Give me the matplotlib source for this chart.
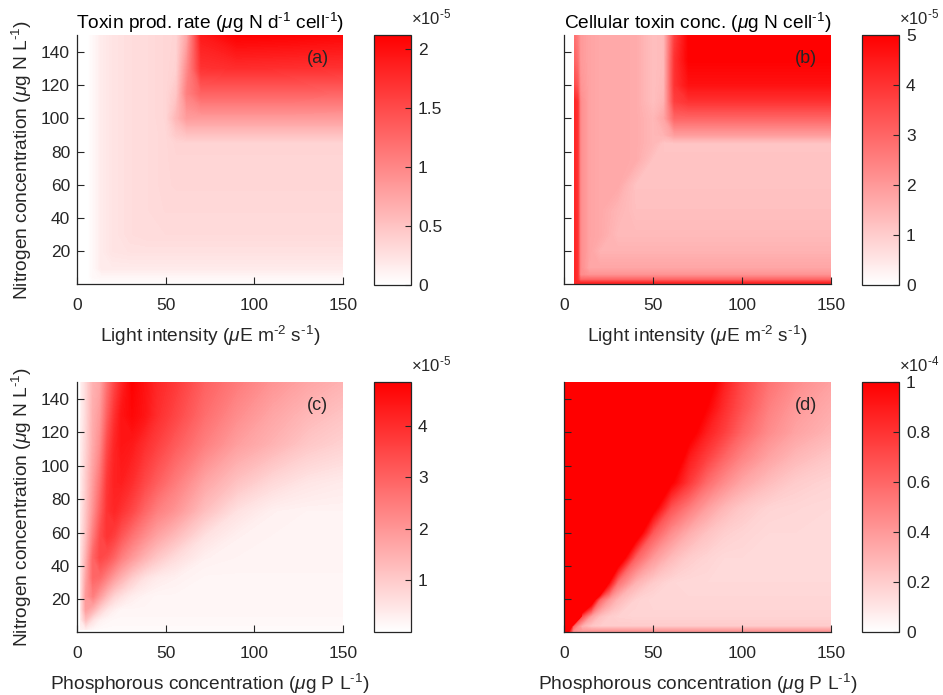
import numpy as np
import matplotlib
matplotlib.use("Agg")
import matplotlib.pyplot as plt
from matplotlib.colors import LinearSegmentedColormap, Normalize
from matplotlib.cm import ScalarMappable

# ---- panel (a): toxin production rate, light (x) vs nitrogen (y), x1e-5
light_a = [6, 9, 14, 20, 30, 40, 50, 56, 62, 70, 90, 120, 150]
nitro_a = [1, 5, 10, 20, 30, 45, 60, 75, 85, 90, 100, 115, 130, 150]
rate_a = [
    [0, .02, .02, .02, .02, .02, .02, .02, .02, .02, .02, .02, .02],
    [0, .06, .08, .08, .08, .08, .08, .08, .08, .08, .08, .08, .08],
    [0, .06, .17, .17, .17, .17, .17, .17, .17, .17, .17, .17, .17],
    [0, .06, .17, .23, .25, .25, .25, .25, .25, .25, .25, .25, .25],
    [0, .06, .17, .23, .28, .30, .30, .30, .30, .30, .30, .30, .30],
    [0, .06, .17, .23, .28, .30, .32, .32, .32, .32, .32, .32, .32],
    [0, .06, .17, .23, .28, .30, .33, .34, .34, .34, .34, .34, .34],
    [0, .06, .17, .23, .28, .30, .33, .35, .35, .35, .35, .35, .35],
    [0, .06, .17, .23, .28, .30, .33, .36, .36, .36, .36, .36, .36],
    [0, .06, .17, .23, .28, .30, .33, .44, .50, .50, .50, .50, .50],
    [0, .06, .17, .23, .28, .30, .34, .60, .82, .82, .82, .82, .82],
    [0, .06, .17, .23, .28, .30, .34, .47, 1.06, 1.30, 1.30, 1.30, 1.28],
    [0, .06, .17, .23, .28, .30, .34, .38, .95, 1.70, 1.74, 1.72, 1.70],
    [0, .06, .17, .23, .28, .30, .34, .36, .74, 1.91, 2.12, 2.10, 2.06],
]

# ---- panel (b): cellular toxin concentration, light vs nitrogen, x1e-5
light_b = [6, 7.5, 9, 14, 20, 30, 40, 50, 56, 62, 70, 90, 120, 150]
nitro_b = [1, 3, 6, 10, 20, 30, 45, 60, 75, 85, 90, 100, 110, 120, 135, 150]
conc_b = [
    [4.25, 4.25, 4.25, 4.25, 4.25, 4.25, 4.25, 4.25, 4.25, 4.25, 4.25, 4.25, 4.25, 4.25],
    [4.25, 4.0, 3.0, 3.0, 3.0, 3.0, 3.0, 3.0, 3.0, 3.0, 3.0, 3.0, 3.0, 3.0],
    [4.25, 4.0, 2.25, 2.1, 2.1, 2.1, 2.1, 2.1, 2.1, 2.1, 2.1, 2.1, 2.1, 2.1],
    [4.25, 4.0, 2.25, 1.75, 1.75, 1.75, 1.75, 1.75, 1.75, 1.75, 1.75, 1.75, 1.75, 1.75],
    [4.25, 4.0, 2.25, 1.8, 1.5, 1.5, 1.5, 1.5, 1.5, 1.5, 1.5, 1.5, 1.5, 1.5],
    [4.25, 4.0, 2.25, 1.8, 1.7, 1.35, 1.35, 1.35, 1.35, 1.35, 1.35, 1.35, 1.35, 1.35],
    [4.25, 4.0, 2.25, 1.8, 1.7, 1.45, 1.25, 1.25, 1.25, 1.25, 1.25, 1.25, 1.25, 1.25],
    [4.25, 4.0, 2.25, 1.8, 1.7, 1.7, 1.2, 1.2, 1.2, 1.2, 1.2, 1.2, 1.2, 1.2],
    [4.25, 4.0, 2.25, 1.8, 1.7, 1.7, 1.65, 1.18, 1.18, 1.18, 1.18, 1.18, 1.18, 1.18],
    [4.25, 4.0, 2.25, 1.8, 1.7, 1.7, 1.65, 1.4, 1.15, 1.15, 1.15, 1.15, 1.15, 1.15],
    [4.25, 4.0, 2.25, 1.8, 1.7, 1.7, 1.65, 1.4, 1.5, 1.9, 1.9, 1.9, 1.9, 1.9],
    [4.25, 4.0, 2.25, 1.8, 1.7, 1.7, 1.65, 1.4, 1.75, 3.0, 3.0, 3.0, 3.0, 3.0],
    [4.25, 4.0, 2.25, 1.8, 1.7, 1.7, 1.65, 1.25, 1.5, 3.75, 4.0, 4.0, 4.0, 4.0],
    [3.5, 3.25, 2.1, 1.8, 1.7, 1.7, 1.65, 1.25, 1.4, 4.0, 4.65, 4.65, 4.65, 4.65],
    [3.0, 2.75, 2.0, 1.8, 1.7, 1.7, 1.65, 1.25, 1.35, 4.0, 5.0, 5.0, 5.0, 5.0],
    [2.75, 2.5, 2.0, 1.8, 1.7, 1.7, 1.65, 1.25, 1.35, 3.75, 5.0, 5.0, 5.0, 5.0],
]

# ---- panel (c): toxin production rate, phosphorus (x) vs nitrogen (y), x1e-5
phos_c = [2, 5, 9, 13, 17, 21, 25, 31, 38, 45, 55, 72, 90, 110, 130, 150]
nitro_c = [2, 8, 14, 22, 33, 45, 58, 73, 90, 113, 130, 150]
rate_c = [
    [.24, .29, .15, .10, .10, .10, .10, .10, .10, .10, .10, .10, .10, .10, .10, .10],
    [.39, 1.21, .58, .29, .19, .15, .15, .15, .15, .15, .15, .15, .15, .15, .15, .15],
    [.49, 1.84, 1.46, .87, .49, .29, .19, .19, .19, .19, .19, .19, .19, .19, .19, .19],
    [.49, 1.94, 2.43, 1.84, 1.26, .82, .58, .34, .24, .19, .19, .19, .19, .19, .19, .19],
    [.49, 1.70, 2.91, 2.81, 2.33, 1.84, 1.46, .97, .58, .39, .29, .19, .19, .19, .19, .19],
    [.49, 1.46, 2.91, 3.49, 3.30, 2.91, 2.43, 1.94, 1.46, 1.07, .68, .29, .24, .24, .24, .24],
    [.44, 1.21, 2.43, 3.40, 3.88, 3.64, 3.20, 2.67, 2.18, 1.75, 1.31, .58, .29, .24, .24, .24],
    [.39, 1.07, 2.04, 3.01, 3.88, 4.12, 3.88, 3.49, 2.91, 2.43, 2.04, 1.21, .58, .29, .24, .24],
    [.34, .97, 1.84, 2.67, 3.78, 4.22, 4.27, 3.98, 3.49, 3.06, 2.52, 1.70, 1.16, .73, .49, .39],
    [.29, .82, 1.60, 2.18, 3.40, 4.12, 4.46, 4.37, 3.98, 3.64, 3.15, 2.43, 1.84, 1.46, 1.07, .87],
    [.24, .73, 1.55, 1.94, 3.01, 3.88, 4.46, 4.70, 4.46, 3.98, 3.54, 2.76, 2.18, 1.70, 1.36, 1.12],
    [.24, .73, 1.46, 1.70, 2.67, 3.49, 4.12, 4.85, 4.51, 4.12, 3.78, 3.01, 2.52, 2.04, 1.70, 1.46],
]

# ---- panel (d): cellular toxin concentration, phosphorus vs nitrogen, x1e-4
# (2.0 = beyond the top of the colour scale, shown saturated)
phos_d = [0, 5, 10, 15, 20, 25, 30, 40, 50, 60, 70, 80, 90, 100, 115, 130, 150]
nitro_d = [1, 4, 10, 20, 30, 45, 60, 75, 90, 105, 120, 135, 150]
conc_d = [
    [1.5, .45, .4, .4, .4, .4, .4, .4, .4, .4, .4, .4, .4, .4, .4, .4, .4],
    [2.6, .6, .3, .22, .2, .2, .2, .2, .2, .2, .2, .2, .2, .2, .2, .2, .2],
    [2, 2.84, .7, .38, .25, .2, .18, .17, .17, .17, .17, .17, .17, .17, .17, .17, .17],
    [2, 2, 2, 1.27, .6, .4, .28, .18, .16, .16, .16, .16, .16, .16, .16, .16, .16],
    [2, 2, 2, 2, 2, .98, .55, .3, .2, .16, .15, .15, .15, .15, .15, .15, .15],
    [2, 2, 2, 2, 2, 2, 1.25, .62, .4, .27, .2, .17, .15, .15, .15, .15, .15],
    [2, 2, 2, 2, 2, 2, 2, 1.19, .65, .45, .32, .24, .19, .17, .15, .15, .15],
    [2, 2, 2, 2, 2, 2, 2, 2, 1.08, .68, .52, .38, .28, .22, .17, .16, .15],
    [2, 2, 2, 2, 2, 2, 2, 2, 2, 1.02, .78, .58, .45, .35, .26, .2, .17],
    [2, 2, 2, 2, 2, 2, 2, 2, 2, 1.23, .9, .75, .6, .48, .36, .28, .22],
    [2, 2, 2, 2, 2, 2, 2, 2, 2, 2, 1.08, .88, .75, .6, .45, .36, .29],
    [2, 2, 2, 2, 2, 2, 2, 2, 2, 2, 2, 1.0, .82, .68, .5, .4, .33],
    [2, 2, 2, 2, 2, 2, 2, 2, 2, 2, 2, 1.12, .88, .72, .55, .45, .37],
]

x_ticks = [0, 50, 100, 150]
y_ticks = [20, 40, 60, 80, 100, 120, 140]

plt.rcParams['font.family'] = 'Liberation Sans'
plt.rcParams['mathtext.fontset'] = 'custom'
plt.rcParams['mathtext.rm'] = 'Liberation Sans'
plt.rcParams['mathtext.it'] = 'Liberation Sans:italic'

ink = '#262626'
white_red = LinearSegmentedColormap.from_list('white_red', ['#ffffff', '#ff0000'])
HY = '\u2010'  # short hyphen used in the exponents, as in the original

fig = plt.figure(figsize=(9.43, 6.95), dpi=100)


def draw_panel(ax_pos, cax_pos, x, y, z, top, cticks, clabels, expo, tag,
               title=None, xlabel=None, ylabel=None, show_ylabels=True):
    ax = fig.add_axes(ax_pos)
    cax = fig.add_axes(cax_pos)
    norm = Normalize(vmin=0, vmax=top)
    levels = np.linspace(0, top, 121)
    ax.contourf(x, y, np.array(z), levels=levels, cmap=white_red, norm=norm,
                extend='max', antialiased=False)
    ax.set_xlim(0, 150)
    ax.set_ylim(0.5, 150)
    ax.set_xticks(x_ticks)
    ax.set_yticks(y_ticks)
    if not show_ylabels:
        ax.set_yticklabels([])
    for side in ['top', 'right']:
        ax.spines[side].set_visible(False)
    for side in ['left', 'bottom']:
        ax.spines[side].set_color(ink)
        ax.spines[side].set_linewidth(0.9)
    ax.tick_params(axis='x', direction='in', length=5, pad=10, colors=ink, labelsize=12.5)
    ax.tick_params(axis='y', direction='in', length=5, pad=5, colors=ink, labelsize=12.5)
    ax.text(0.905, 0.905, tag, transform=ax.transAxes, ha='center', va='center',
            fontsize=13, color=ink)
    if title:
        ax.set_title(title, fontsize=13.8, color='black', pad=1.5)
    if xlabel:
        ax.set_xlabel(xlabel, fontsize=13.8, color=ink, labelpad=8)
    if ylabel:
        ax.set_ylabel(ylabel, fontsize=13.8, color=ink, labelpad=5)

    cb = fig.colorbar(ScalarMappable(norm=norm, cmap=white_red), cax=cax)
    cb.set_ticks(cticks)
    cb.set_ticklabels(clabels)
    cb.outline.set_edgecolor(ink)
    cb.outline.set_linewidth(0.9)
    cax.tick_params(direction='in', length=4, pad=5, colors=ink, labelsize=12.5)
    cax.text(1.0, 1.03, r'$\times$10$^{' + HY + expo + '}$', transform=cax.transAxes,
             ha='left', va='bottom', fontsize=12, color=ink)
    return ax


ylab = r'Nitrogen concentration ($\mu$g N L$^{' + HY + '1}$)'
light_lab = r'Light intensity ($\mu$E m$^{' + HY + '2}$ s$^{' + HY + '1}$)'
phos_lab = r'Phosphorous concentration ($\mu$g P L$^{' + HY + '1}$)'

draw_panel([0.0817, 0.5914, 0.2821, 0.3583], [0.3966, 0.5899, 0.0392, 0.3597],
           light_a, nitro_a, rate_a, 2.12, [0, 0.5, 1, 1.5, 2],
           ['0', '0.5', '1', '1.5', '2'], '5', '(a)',
           title=r'Toxin prod. rate ($\mu$g N d$^{' + HY + '1}$ cell$^{' + HY + '1}$)',
           xlabel=light_lab, ylabel=ylab)

draw_panel([0.5984, 0.5914, 0.2828, 0.3583], [0.9141, 0.5899, 0.0392, 0.3597],
           light_b, nitro_b, conc_b, 5.0, [0, 1, 2, 3, 4, 5],
           ['0', '1', '2', '3', '4', '5'], '5', '(b)',
           title=r'Cellular toxin conc. ($\mu$g N cell$^{' + HY + '1}$)',
           xlabel=light_lab, show_ylabels=False)

draw_panel([0.0817, 0.0906, 0.2821, 0.3597], [0.3966, 0.0906, 0.0392, 0.3597],
           phos_c, nitro_c, rate_c, 4.85, [1, 2, 3, 4],
           ['1', '2', '3', '4'], '5', '(c)',
           xlabel=phos_lab, ylabel=ylab)

draw_panel([0.5984, 0.0906, 0.2828, 0.3597], [0.9141, 0.0906, 0.0392, 0.3597],
           phos_d, nitro_d, conc_d, 1.0, [0, 0.2, 0.4, 0.6, 0.8, 1],
           ['0', '0.2', '0.4', '0.6', '0.8', '1'], '4', '(d)',
           xlabel=phos_lab, show_ylabels=False)

fig.savefig('out.png', dpi=100)
